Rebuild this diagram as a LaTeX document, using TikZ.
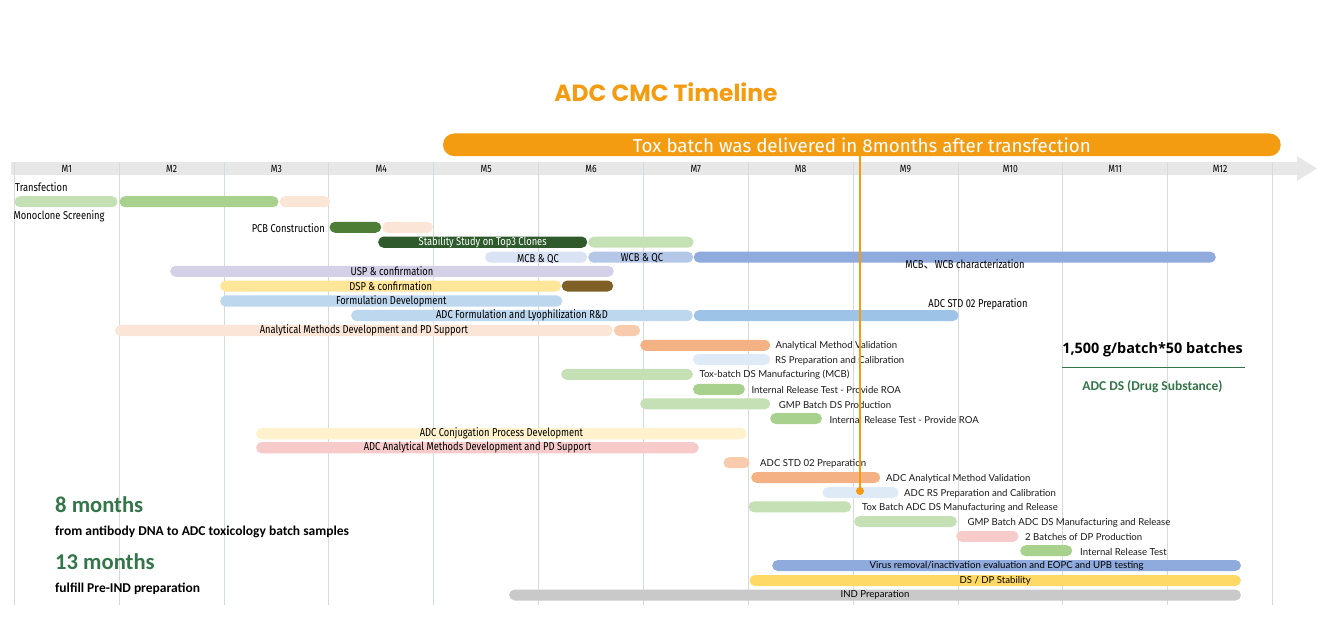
\documentclass[tikz,border=0pt]{standalone}
\usepackage{fontspec}
\setmainfont{Fira Sans}
\newfontfamily\condf[FakeStretch=0.82]{Fira Sans}
\newfontfamily\bannerf{Fira Sans}
\newfontfamily\rlabf{Lato}
\newfontfamily\titlef{Poppins}
\newfontfamily\carf{Carlito}
\newfontfamily\opensf{Open Sans}
\newfontfamily\cjkf{Noto Sans CJK SC}
\definecolor{orng}{HTML}{F39C12}
\definecolor{bandc}{HTML}{E7E7E7}
\definecolor{gridc}{HTML}{D5DADC}
\definecolor{lg}{HTML}{C5E0B4}
\definecolor{mg}{HTML}{A9D18E}
\definecolor{pk}{HTML}{FBE5D6}
\definecolor{pkd}{HTML}{F8CBAD}
\definecolor{orb}{HTML}{F4B183}
\definecolor{dgA}{HTML}{4E7E35}
\definecolor{dgB}{HTML}{2E5A2C}
\definecolor{lbA}{HTML}{DAE3F3}
\definecolor{lbB}{HTML}{B4C7E7}
\definecolor{lbC}{HTML}{8FAADC}
\definecolor{lav}{HTML}{D4D0E7}
\definecolor{yel}{HTML}{FFE699}
\definecolor{brn}{HTML}{7F6026}
\definecolor{fbA}{HTML}{BDD7EE}
\definecolor{fbB}{HTML}{9DC3E6}
\definecolor{vlb}{HTML}{DEEBF7}
\definecolor{lyel}{HTML}{FFF2CC}
\definecolor{pnk}{HTML}{F8CBCB}
\definecolor{dsy}{HTML}{FFD966}
\definecolor{gry}{HTML}{C9C9C9}
\definecolor{grtxt}{HTML}{35754A}
\newcommand\gb[6]{\node[gbar,fill=#5,minimum width={(#3-#2)*1pt}] (#1) at (#2,#4) {#6};}
\newcommand\rl[4]{\node[rlab] (#1) at (#2,#3) {#4};}
\begin{document}
\begin{tikzpicture}[x=1pt,y=-1pt,
  gbar/.style={rounded corners=5.5pt,minimum height=11pt,inner sep=0pt,anchor=west,
    font=\condf\fontsize{11.4}{12}\selectfont,text=black},
  blab/.style={inner sep=0pt,font=\condf\fontsize{11.4}{12}\selectfont,text=black},
  rlab/.style={anchor=west,inner sep=0pt,font=\rlabf\fontsize{9.6}{11}\selectfont,text=black!90},
  mlab/.style={inner sep=0pt,font=\condf\fontsize{10.5}{11}\selectfont,text=black},
  grid/.style={draw=gridc,line width=0.8pt},
  olin/.style={draw=orng,line width=1.3pt}]
\fill[white] (0,0) rectangle (1321,642);
\useasboundingbox (0,0) rectangle (1321,642);
% title
\node[font=\titlef\bfseries\fontsize{23.4}{26}\selectfont,text=orng] (title) at (666,92.5) {ADC CMC Timeline};
% banner
\node[fill=orng,rounded corners=11.3pt,minimum width=837.7pt,minimum height=22.7pt,inner sep=0pt,
  font=\bannerf\fontsize{18.8}{20}\selectfont,text=white] (banner) at (861.85,144.8) {Tox batch was delivered in 8months after transfection};
% axis band and arrow
\fill[bandc] (11,162) rectangle (1297,175);
\fill[bandc] (1297,156) -- (1317,168.5) -- (1297,181) -- cycle;
\foreach \k in {0,...,12} \draw[grid] ({14.3+104.85*\k},162) -- ({14.3+104.85*\k},605);
\foreach \m in {1,...,12} \node[mlab] (m\m) at ({66.7+104.85*(\m-1)},168.5) {M\m};
% rows
\node[blab,anchor=west] (ltr) at (15,186.7) {Transfection};
\gb{t1}{14.3}{117.3}{201.7}{lg}{}
\gb{t2}{119.3}{278.3}{201.7}{mg}{}
\gb{t3}{279.5}{330}{201.7}{pk}{}
\node[blab,anchor=west] (lmono) at (13.5,216.7) {Monoclone Screening};
\node[blab,anchor=east] (lpcb) at (325,228) {PCB Construction};
\gb{p1}{329.3}{381}{227.3}{dgA}{}
\gb{p2}{382}{432.7}{227.3}{pk}{}
\gb{s1}{378}{587}{242.2}{dgB}{\color{white}Stability Study on Top3 Clones}
\gb{s2}{588}{693.4}{242.2}{lg}{}
\gb{mc1}{485}{587}{257.2}{lbA}{}
\gb{mc2}{588}{693}{257.2}{lbB}{}
\gb{mc3}{693.5}{1215.6}{257.2}{lbC}{}
\node[blab] (lmcb) at (538,259.5) {MCB \& QC};
\node[blab] (lwcb) at (642,258.5) {WCB \& QC};
\node[blab] (lchar) at (965,264) {MCB{\cjkf 、}WCB characterization};
\gb{u1}{170}{613.6}{271.3}{lav}{USP \& confirmation}
\gb{d1}{220}{561}{286}{yel}{DSP \& confirmation}
\gb{d2}{561.5}{613}{286}{brn}{}
\gb{fo1}{220}{562}{301}{fbA}{Formulation Development}
\node[blab] (lstd) at (978,304) {ADC STD 02 Preparation};
\gb{f1}{351}{692.5}{315.5}{fbA}{ADC Formulation and Lyophilization R\&D}
\gb{f2}{693.5}{958.4}{315.5}{fbB}{}
\gb{a1}{115}{612.5}{330.5}{pk}{Analytical Methods Development and PD Support}
\gb{a2}{613.6}{640}{330.5}{pkd}{}
\gb{b1}{640}{770}{345.3}{orb}{}
\rl{r1}{775.3}{346}{Analytical Method Validation}
\gb{b2}{692.7}{770}{359.5}{vlb}{}
\rl{r2}{775}{360.5}{RS Preparation and Calibration}
\gb{b3}{561}{692.7}{374.3}{lg}{}
\rl{r3}{699.3}{375}{Tox-batch DS Manufacturing (MCB)}
\gb{b4}{692.7}{744.7}{389.3}{mg}{}
\rl{r4}{751.3}{390}{Internal Release Test - Provide ROA}
\gb{b5}{640}{770}{403.8}{lg}{}
\rl{r5}{778.7}{404.5}{GMP Batch DS Production}
\gb{b6}{770}{821.7}{418.5}{mg}{}
\rl{r6}{829.3}{419.5}{Internal Release Test - Provide ROA}
\gb{c1}{256}{746.5}{433.6}{lyel}{ADC Conjugation Process Development}
\gb{c2}{256}{698.5}{447.7}{pnk}{ADC Analytical Methods Development and PD Support}
\gb{e1}{723.3}{749.3}{462.7}{pkd}{}
\rl{q1}{760}{464}{ADC STD 02 Preparation}
\gb{e2}{751}{880}{477.5}{orb}{}
\rl{q2}{886}{478.5}{ADC Analytical Method Validation}
\gb{e3}{822.3}{898.3}{492.5}{vlb}{}
\rl{q3}{904}{493.5}{ADC RS Preparation and Calibration}
\gb{e4}{748.3}{851}{506.8}{lg}{}
\rl{q4}{862}{508}{Tox Batch ADC DS Manufacturing and Release}
\gb{e5}{854}{956.7}{521.5}{lg}{}
\rl{q5}{967.3}{522.5}{GMP Batch ADC DS Manufacturing and Release}
\gb{e6}{956}{1018.3}{536.3}{pnk}{}
\rl{q6}{1025}{537}{2 Batches of DP Production}
\gb{e7}{1020}{1072}{550.7}{mg}{}
\rl{q7}{1080}{551.5}{Internal Release Test}
\gb{v1}{772}{1240.7}{565.5}{lbC}{\rlabf\fontsize{9.6}{11}\selectfont Virus removal/inactivation evaluation and EOPC and UPB testing}
\gb{v2}{749.3}{1240.7}{580.5}{dsy}{\rlabf\fontsize{9.6}{11}\selectfont DS / DP Stability}
\gb{v3}{509}{1240.7}{595}{gry}{\rlabf\fontsize{9.6}{11}\selectfont IND Preparation}
% right caption
\node[font=\opensf\bfseries\fontsize{14.4}{16}\selectfont,text=black] (cap1) at (1152.5,350) {1,500 g/batch*50 batches};
\coordinate (ul) at (1062,367.3);
\coordinate (ur) at (1245,367.3);
\draw[draw=grtxt,line width=0.8pt] (ul) -- (ur);
\node[font=\carf\bfseries\fontsize{13.5}{15}\selectfont,text=grtxt] (cap2) at (1152.5,386.5) {ADC DS (Drug Substance)};
% bottom left
\node[anchor=base west,inner sep=0pt,font=\carf\bfseries\fontsize{22.6}{24}\selectfont,text=grtxt] (k1) at (55,512.7) {8 months};
\node[anchor=base west,inner sep=0pt,font=\carf\bfseries\fontsize{13.5}{15}\selectfont,text=black] (k2) at (55,535.5) {from antibody DNA to ADC toxicology batch samples};
\node[anchor=base west,inner sep=0pt,font=\carf\bfseries\fontsize{22.6}{24}\selectfont,text=grtxt] (k3) at (55,569.5) {13 months};
\node[anchor=base west,inner sep=0pt,font=\carf\bfseries\fontsize{13.5}{15}\selectfont,text=black] (k4) at (55,592) {fulfill Pre-IND preparation};
% orange marker
\node[circle,fill=orng,inner sep=0pt,minimum size=8pt] (dot) at (860,491) {};
\draw[olin] (banner.south -| dot.center) -- (dot.center);
\end{tikzpicture}
\end{document}
